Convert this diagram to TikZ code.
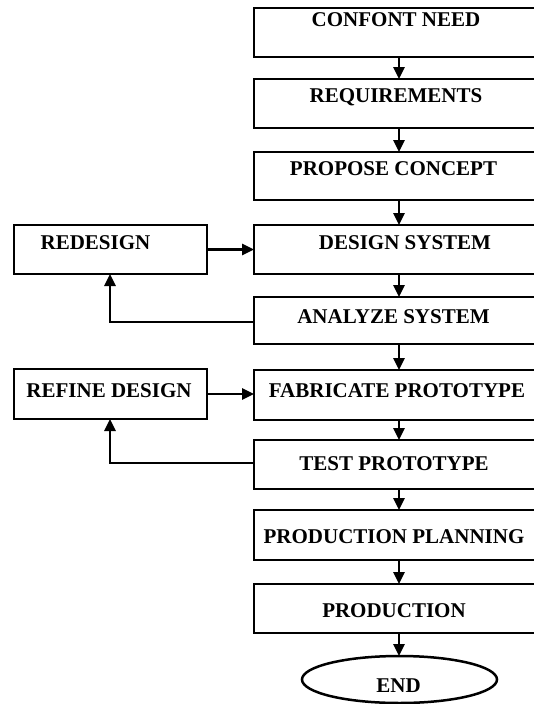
\documentclass[tikz,border=0pt]{standalone}
\usepackage{fontspec}
\setmainfont{Liberation Serif}
\usetikzlibrary{arrows.meta,shapes.geometric}
\tikzset{
  box/.style={draw, line width=2.5pt, rectangle, inner sep=0pt, outer sep=0pt, anchor=north west},
  lbl/.style={anchor=base, inner sep=0pt, font=\fontsize{21}{24}\selectfont\bfseries},
  arr/.style={line width=2.5pt, -{Triangle[length=12pt,width=11pt]}},
  conn/.style={line width=2.5pt}
}
\begin{document}
\begin{tikzpicture}[x=1pt,y=-1pt]
\useasboundingbox (0,0) rectangle (534,704);
\fill[white] (0,0) rectangle (534,704);
\clip (0,0) rectangle (534,704);
% main column boxes
\node[box, minimum width=306pt, minimum height=49pt] (b1) at (254,8) {};
\node[box, minimum width=306pt, minimum height=49pt] (b2) at (254,79) {};
\node[box, minimum width=306pt, minimum height=48pt] (b3) at (254,152) {};
\node[box, minimum width=306pt, minimum height=49pt] (b4) at (254,225) {};
\node[box, minimum width=306pt, minimum height=47pt] (b5) at (254,297) {};
\node[box, minimum width=306pt, minimum height=50pt] (b6) at (254,370) {};
\node[box, minimum width=306pt, minimum height=49pt] (b7) at (254,440) {};
\node[box, minimum width=306pt, minimum height=50pt] (b8) at (254,510) {};
\node[box, minimum width=306pt, minimum height=49pt] (b9) at (254,584) {};
\node[draw, line width=2.5pt, ellipse, minimum width=195pt, minimum height=47pt, inner sep=0pt, outer sep=0pt] (bend) at (399.5,679.5) {};
% side boxes
\node[box, minimum width=193pt, minimum height=49pt] (r1) at (14,225) {};
\node[box, minimum width=193pt, minimum height=50pt] (r2) at (14,369) {};
% labels
\node[lbl] (t1) at (396,27) {CONFONT NEED};
\node[lbl] (t2) at (396,102) {REQUIREMENTS};
\node[lbl] (t3) at (393.5,175) {PROPOSE CONCEPT};
\node[lbl] (t4) at (405,249.5) {DESIGN SYSTEM};
\node[lbl] (t5) at (393.5,323) {ANALYZE SYSTEM};
\node[lbl] (t6) at (397,397) {FABRICATE PROTOTYPE};
\node[lbl] (t7) at (394,470) {TEST PROTOTYPE};
\node[lbl] (t8) at (394,543) {PRODUCTION PLANNING};
\node[lbl] (t9) at (394,617) {PRODUCTION};
\node[lbl] (tend) at (398.5,692) {END};
\node[lbl] (tr1) at (95.5,249.5) {REDESIGN};
\node[lbl] (tr2) at (109,397) {REFINE DESIGN};
% connectors
\coordinate (ax) at (399,0);
\coordinate (fx) at (110,0);
\draw[arr] (b1.south -| ax) -- (b2.north -| ax);
\draw[arr] (b2.south -| ax) -- (b3.north -| ax);
\draw[arr] (b3.south -| ax) -- (b4.north -| ax);
\draw[arr] (b4.south -| ax) -- (b5.north -| ax);
\draw[arr] (b5.south -| ax) -- (b6.north -| ax);
\draw[arr] (b6.south -| ax) -- (b7.north -| ax);
\draw[arr] (b7.south -| ax) -- (b8.north -| ax);
\draw[arr] (b8.south -| ax) -- (b9.north -| ax);
\draw[arr] (b9.south -| ax) -- (bend.north -| ax);
\draw[arr] (r1.east) -- (r1.east -| b4.west);
\draw[arr] (r2.east) -- (r2.east -| b6.west);
\coordinate (f1) at (254,322);
\coordinate (f2) at (254,463);
\draw[arr] (f1) -| (r1.south -| fx);
\draw[arr] (f2) -| (r2.south -| fx);
\end{tikzpicture}
\end{document}
